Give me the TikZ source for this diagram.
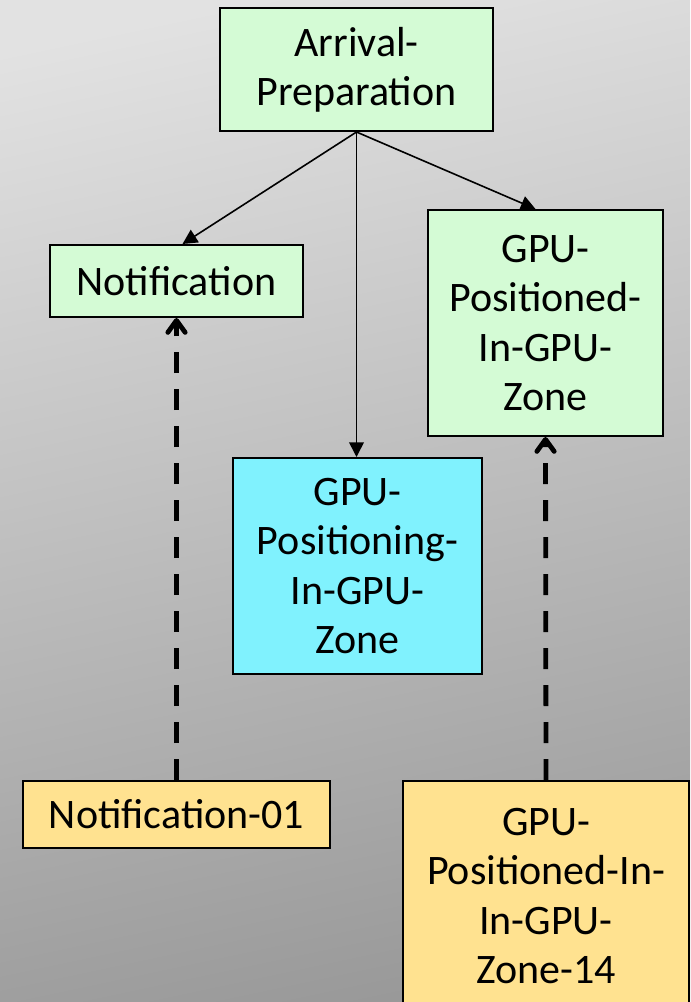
\documentclass[tikz,border=0pt]{standalone}
\usepackage{fontspec}
\setmainfont{Carlito}
\usetikzlibrary{arrows.meta,calc}

\definecolor{boxgreen}{HTML}{D4FBD5}
\definecolor{boxcyan}{HTML}{80F2FE}
\definecolor{boxyellow}{HTML}{FFE290}
\definecolor{bgtop}{HTML}{E2E2E2}
\definecolor{bgbottom}{HTML}{989898}

\tikzset{
  concept/.style={draw=black, line width=1.5pt, align=center, inner sep=0pt,
    font=\fontsize{31.5pt}{37pt}\selectfont},
  green/.style={concept, fill=boxgreen},
  cyanbox/.style={concept, fill=boxcyan},
  yellowbox/.style={concept, fill=boxyellow},
  subarrow/.style={line width=1.2pt, -{Triangle[length=11pt,width=11pt]}},
  instarrow/.style={line width=3.6pt, dash pattern=on 15.75pt off 12pt,
    -{Straight Barb[length=9pt,width=13pt,round]}},
}

\begin{document}
\begin{tikzpicture}[x=0.75pt, y=-0.75pt]
  \clip (0,0) rectangle (690,1002);
  \shade[top color=bgtop, bottom color=bgbottom, shading angle=12]
    (-40,-40) rectangle (730,1042);

  % concept boxes
  \node[green, minimum width=273*0.75pt, minimum height=123*0.75pt] (ap)
    at (356.5,69.5) {Arrival-\\Preparation};
  \node[green, minimum width=253*0.75pt, minimum height=72*0.75pt] (notif)
    at (176.5,281) {Notification};
  \node[green, minimum width=235*0.75pt, minimum height=226*0.75pt] (gpued)
    at (545.5,323) {GPU-\\Positioned-\\In-GPU-\\Zone};
  \node[cyanbox, minimum width=249*0.75pt, minimum height=216*0.75pt] (gpuing)
    at (357.5,566) {GPU-\\Positioning-\\In-GPU-\\Zone};

  % instance boxes
  \node[yellowbox, minimum width=307*0.75pt, minimum height=67*0.75pt] (n01)
    at (176.5,814.5) {Notification-01};
  \node[yellowbox, minimum width=286*0.75pt, minimum height=230*0.75pt] (z14)
    at (546,896) {GPU-\\Positioned-In-\\In-GPU-\\Zone-14};

  % sub-concept arrows
  \draw[subarrow] (ap.south) -- ($(notif.north)+(6,0)$);
  \draw[subarrow] (ap.south) -- (gpuing.north -| ap.south);
  \draw[subarrow] (ap.south) -- ($(gpued.north)+(-10,0)$);

  % instance-of arrows
  \draw[instarrow] (n01.north) -- (notif.south);
  \draw[instarrow] (z14.north) -- (gpued.south);
\end{tikzpicture}
\end{document}
